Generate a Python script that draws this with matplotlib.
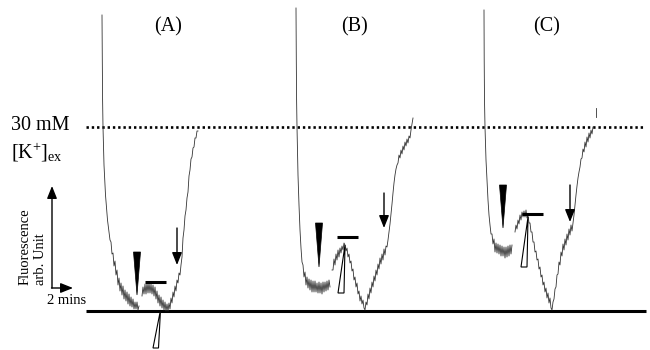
import matplotlib
matplotlib.use("Agg")
import matplotlib.pyplot as plt
from matplotlib.patches import Polygon

plt.rcParams["font.family"] = ["Liberation Serif", "DejaVu Serif"]
plt.rcParams["mathtext.fontset"] = "custom"
plt.rcParams["mathtext.rm"] = "Liberation Serif"
plt.rcParams["mathtext.it"] = "Liberation Serif:italic"

# ---- reference levels (fluorescence, arb. units) ----
baseline_level = 0
k30_level = 184

# ---- panel (A) trace: before and after the application ----
a_pre_t = [102, 102.3, 102.6, 103, 104, 105.5, 107.5,
           110, 111, 112, 113, 114, 115, 116, 117, 118, 119, 120, 121,
           122, 123, 124, 125, 126, 127, 128, 129, 130, 131, 132, 133,
           134, 135, 136, 137, 138, 139]
a_pre_f = [296, 251, 211, 184, 146, 116, 91,
           71, 69, 57, 58, 45, 50, 36, 41, 26, 33, 20, 28,
           16, 25, 12, 21, 10, 19, 7, 17, 5, 14, 4, 12,
           2, 9, 2, 9, 1, 5]
a_post_t = [142, 143, 144, 145, 146, 147, 148, 149, 150, 151, 152, 153,
            154, 155, 156, 157, 158, 159, 160, 161, 162, 163, 164, 165,
            166, 167, 168, 169, 170, 171, 172, 173, 174, 175, 176, 177,
            178, 179, 180, 181, 182, 183, 184, 185, 186, 187, 188, 189,
            190, 191, 192, 193, 194, 195, 196, 197, 198]
a_post_f = [15, 24, 17, 27, 17, 28, 18, 28, 18, 27, 17, 26,
            15, 24, 12, 20, 8, 16, 5, 14, 3, 11, 1, 9,
            0, 7, 0, 8, 2, 13, 8, 19, 14, 25, 20, 31,
            28, 38, 36, 46, 54, 73, 81, 95, 101, 113, 119, 135,
            141, 152, 154, 163, 164, 173, 173, 180, 180]

# ---- panel (B) trace ----
b_pre_t = [296, 296.3, 296.6, 297, 298, 299, 300, 301,
           302, 303, 304, 305, 306, 307, 308, 309, 310, 311, 312, 313,
           314, 315, 316, 317, 318, 319, 320, 321, 322, 323, 324, 325,
           326, 327, 328, 329, 330]
b_pre_f = [303, 251, 211, 184, 136, 106, 81, 63,
           49, 46, 34, 39, 26, 34, 23, 32, 21, 31, 19, 30,
           19, 30, 19, 28, 18, 29, 18, 28, 17, 29, 19, 29,
           20, 30, 21, 31, 24]
b_post_t = [332, 333, 334, 335, 336, 337, 338, 339, 340, 341, 342, 343,
            344, 345, 346, 347, 348, 349, 350, 351, 352, 353, 354, 355,
            356, 357, 358, 359, 360, 361, 362, 363, 364, 365, 366, 367,
            368, 369, 370, 371, 372, 373, 374, 375, 376, 377, 378, 379,
            380, 381, 382, 383, 384, 385, 386, 387, 388, 389, 390, 391,
            392, 393, 394, 395, 396, 397, 398, 399, 400, 401, 402, 403,
            404, 405, 406, 407, 408, 409, 410, 411, 412, 413]
b_post_f = [41, 41, 52, 46, 57, 51, 61, 54, 63, 58, 65, 61,
            68, 66, 60, 63, 54, 57, 48, 50, 40, 42, 31, 34,
            24, 28, 17, 20, 10, 15, 7, 11, 3, 1, 9, 6,
            17, 12, 23, 18, 29, 24, 35, 30, 41, 36, 47, 42,
            53, 47, 57, 51, 62, 56, 65, 64, 71, 79, 87, 97,
            107, 118, 128, 136, 142, 146, 148, 156, 153, 161, 157, 165,
            161, 169, 165, 172, 168, 175, 173, 181, 187, 193]

# ---- panel (C) trace ----
c_pre_t = [484, 484.2, 484.5, 485, 486, 487, 488, 489, 490,
           491, 492, 493, 494, 495, 496, 497, 498, 499, 500, 501, 502,
           503, 504, 505, 506, 507, 508, 509, 510, 511, 512]
c_pre_f = [301, 251, 211, 184, 151, 131, 111, 96, 86,
           77, 77, 67, 72, 59, 68, 58, 67, 57, 66, 55, 65,
           55, 64, 53, 64, 54, 65, 55, 66, 57, 66]
c_post_t = [515, 516, 517, 518, 519, 520, 521, 522, 523, 524,
            525, 526, 527, 528, 529, 530, 531, 532, 533, 534,
            535, 536, 537, 538, 539, 540, 541, 542, 543, 544,
            545, 546, 547, 548, 549, 550, 551, 552, 553, 554,
            555, 556, 557, 558, 559, 560, 561, 562, 563, 564,
            565, 566, 567, 568, 569, 570, 571, 572, 573, 574,
            575, 576, 577, 578, 579, 580, 581, 582, 583, 584,
            585, 586, 587, 588, 589, 590, 591, 592, 593]
c_post_f = [79, 86, 82, 91, 87, 96, 91, 99, 94, 100,
            94, 101, 93, 96, 88, 88, 79, 79, 69, 69,
            59, 60, 51, 52, 42, 44, 34, 36, 26, 29,
            19, 23, 13, 18, 8, 13, 3, 1, 9, 12,
            22, 24, 36, 37, 49, 46, 59, 55, 67, 61,
            72, 66, 77, 71, 82, 76, 86, 80, 88, 96,
            106, 116, 125, 133, 139, 144, 152, 153, 162, 159,
            169, 164, 174, 169, 178, 173, 181, 177, 184]
c_tail_t = [596, 596]
c_tail_f = [194, 203]

# ---- event markers per panel (A, B, C) ----
panel_labels = ["(A)", "(B)", "(C)"]
panel_label_t = [168, 355, 547]

# filled wedge (pointing down)
wedge_t = [137, 319, 503]
wedge_top = [59, 88, 126]
wedge_bottom = [16, 44, 83]

# open triangle (pointing up)
open_tip_t = [160.5, 345, 528]
open_tip_f = [1, 66, 94]
open_base_t0 = [153, 338, 521]
open_base_t1 = [158.5, 344, 527]
open_base_f = [-37, 18, 44]

# horizontal bars
bar_t0 = [145, 337, 522]
bar_t1 = [166, 358, 543]
bar_f = [29, 74, 97]

# downward arrows
arrow_t = [177, 384, 570]
arrow_tail_f = [83, 118, 126]
arrow_tip_f = [46, 83, 89]

fig = plt.figure(figsize=(6.5, 3.5), dpi=100)
ax = fig.add_axes([0, 0, 1, 1])
ax.set_xlim(0, 650)
ax.set_ylim(-39, 311)
ax.axis("off")

# reference lines
ax.plot([86, 646], [baseline_level, baseline_level], color="black", lw=2.2,
        solid_capstyle="butt")
ax.plot([86, 644], [k30_level, k30_level], color="black", lw=1.9,
        linestyle=(0, (0.9, 1.1)))

# traces
trace_kw = dict(color="#333333", lw=0.6)
for t, f in [(a_pre_t, a_pre_f), (a_post_t, a_post_f),
             (b_pre_t, b_pre_f), (b_post_t, b_post_f),
             (c_pre_t, c_pre_f), (c_post_t, c_post_f),
             (c_tail_t, c_tail_f)]:
    ax.plot(t, f, **trace_kw)

head = "-|>,head_length=0.75,head_width=0.3"
for i in range(3):
    # panel label
    ax.text(panel_label_t[i], 280, panel_labels[i], ha="center",
            va="baseline", fontsize=14.5)
    # filled wedge
    ax.add_patch(Polygon([(wedge_t[i] - 3.5, wedge_top[i]),
                          (wedge_t[i] + 3.5, wedge_top[i]),
                          (wedge_t[i], wedge_bottom[i])],
                         closed=True, facecolor="black", edgecolor="black",
                         lw=0.5))
    # open triangle
    ax.add_patch(Polygon([(open_tip_t[i], open_tip_f[i]),
                          (open_base_t1[i], open_base_f[i]),
                          (open_base_t0[i], open_base_f[i])],
                         closed=True, facecolor="white", edgecolor="black",
                         lw=0.8, zorder=3))
    # bar
    ax.plot([bar_t0[i], bar_t1[i]], [bar_f[i], bar_f[i]], color="black",
            lw=2.2, solid_capstyle="butt")
    # down arrow
    ax.annotate("", xy=(arrow_t[i], arrow_tip_f[i]),
                xytext=(arrow_t[i], arrow_tail_f[i]),
                arrowprops=dict(arrowstyle=head, color="black", lw=1.0,
                                shrinkA=0, shrinkB=0, mutation_scale=10))

# scale axes: fluorescence and time
ax.annotate("", xy=(52, 125), xytext=(52, 23),
            arrowprops=dict(arrowstyle=head, color="black", lw=1.0,
                            shrinkA=0, shrinkB=0, mutation_scale=10))
ax.annotate("", xy=(73, 23), xytext=(51.5, 23),
            arrowprops=dict(arrowstyle=head, color="black", lw=1.0,
                            shrinkA=0, shrinkB=0, mutation_scale=10))
ax.text(25, 26, "Fluorescence", rotation=90, ha="center", va="bottom",
        fontsize=10.5)
ax.text(40, 26, "arb. Unit", rotation=90, ha="center", va="bottom",
        fontsize=10.5)
ax.text(47, 11, "2 mins", ha="left", va="center", fontsize=10.5)

# concentration label
ax.text(11, 181, "30 mM", ha="left", va="baseline", fontsize=14.5)
ax.text(11, 153, r"$[\mathrm{K}^{+}]_{\mathrm{ex}}$", ha="left",
        va="baseline", fontsize=14.5)

fig.savefig("out.png", dpi=100)
